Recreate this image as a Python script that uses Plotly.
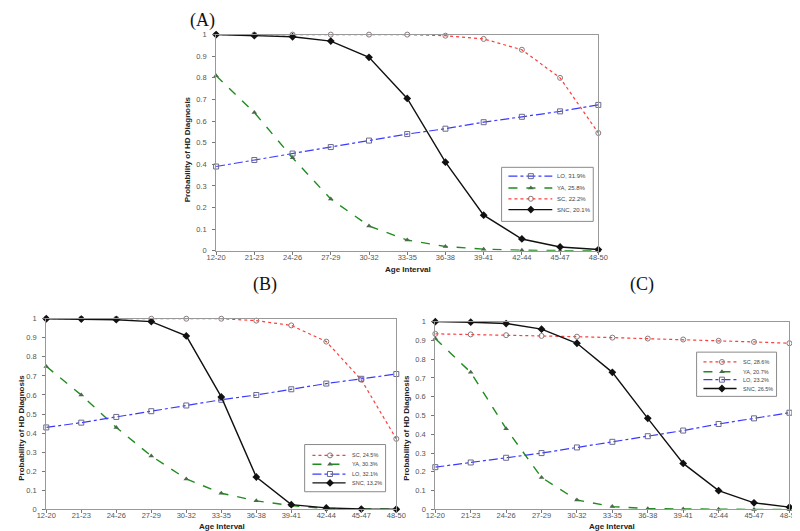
import plotly.graph_objects as go

age_labels = ["12-20", "21-23", "24-26", "27-29", "30-32", "33-35",
              "36-38", "39-41", "42-44", "45-47", "48-50"]

# Panel A
a_lo = [0.39, 0.42, 0.45, 0.48, 0.51, 0.54, 0.565, 0.595, 0.62, 0.645, 0.675]
a_ya = [0.81, 0.64, 0.43, 0.24, 0.115, 0.05, 0.02, 0.008, 0.003, 0.001, 0.0]
a_sc = [1.0, 1.0, 1.0, 1.0, 1.0, 1.0, 0.995, 0.98, 0.93, 0.80, 0.545]
a_snc = [1.0, 0.995, 0.99, 0.97, 0.895, 0.705, 0.41, 0.165, 0.055, 0.018, 0.006]
a_order = ["LO", "YA", "SC", "SNC"]
a_names = {"LO": "LO, 31.9%", "YA": "YA, 25.8%", "SC": "SC, 22.2%", "SNC": "SNC, 20.1%"}

# Panel B
b_sc = [1.0, 1.0, 1.0, 1.0, 1.0, 1.0, 0.99, 0.965, 0.88, 0.68, 0.37]
b_ya = [0.75, 0.60, 0.43, 0.28, 0.16, 0.085, 0.045, 0.02, 0.005, 0.002, 0.001]
b_lo = [0.43, 0.455, 0.485, 0.515, 0.545, 0.575, 0.60, 0.63, 0.66, 0.685, 0.71]
b_snc = [1.0, 0.998, 0.995, 0.985, 0.91, 0.59, 0.17, 0.025, 0.008, 0.002, 0.001]
b_order = ["SC", "YA", "LO", "SNC"]
b_names = {"SC": "SC, 24.5%", "YA": "YA, 30.3%", "LO": "LO, 32.1%", "SNC": "SNC, 13.2%"}

# Panel C
c_sc = [0.935, 0.932, 0.928, 0.924, 0.92, 0.915, 0.91, 0.905, 0.898, 0.892, 0.885]
c_ya = [0.91, 0.73, 0.43, 0.17, 0.05, 0.015, 0.004, 0.002, 0.001, 0.0, 0.0]
c_lo = [0.225, 0.25, 0.275, 0.30, 0.33, 0.36, 0.39, 0.42, 0.455, 0.485, 0.515]
c_snc = [1.0, 0.997, 0.99, 0.96, 0.885, 0.73, 0.485, 0.245, 0.10, 0.035, 0.012]
c_order = ["SC", "YA", "LO", "SNC"]
c_names = {"SC": "SC, 28.6%", "YA": "YA, 20.7%", "LO": "LO, 23.2%", "SNC": "SNC, 26.5%"}

x_idx = list(range(len(age_labels)))
W, H = 800, 531

styles = {
    "LO": dict(line=dict(color="#3a3aff", dash="dashdot", width=1.2),
               marker=dict(symbol="square-open", size=5, color="#6a6a8a", line=dict(width=1))),
    "YA": dict(line=dict(color="#1e8c1e", dash="dash", width=1.4),
               marker=dict(symbol="triangle-up", size=5, color="#4a6a4a")),
    "SC": dict(line=dict(color="#ff3b3b", dash="dot", width=1.2),
               marker=dict(symbol="circle-open", size=5, color="#8a7a7a", line=dict(width=1))),
    "SNC": dict(line=dict(color="#111111", dash="solid", width=1.4),
                marker=dict(symbol="diamond", size=6, color="#111111")),
}

fig = go.Figure()

panels = [
    ("x", "y", a_order, {"LO": a_lo, "YA": a_ya, "SC": a_sc, "SNC": a_snc}, a_names),
    ("x2", "y2", b_order, {"SC": b_sc, "YA": b_ya, "LO": b_lo, "SNC": b_snc}, b_names),
    ("x3", "y3", c_order, {"SC": c_sc, "YA": c_ya, "LO": c_lo, "SNC": c_snc}, c_names),
]

for xa, ya, order, series, names in panels:
    for key in order:
        st = styles[key]
        fig.add_trace(go.Scatter(x=x_idx, y=series[key], name=names[key],
                                 mode="lines+markers", line=st["line"], marker=st["marker"],
                                 xaxis=xa, yaxis=ya, showlegend=False, cliponaxis=False))

# ---- hand-built legends (pixel layout on a hidden overlay axis) ----
legend_specs = [
    dict(box=(496, 158, 590, 213), rows=[167, 179, 190, 201], lx=(503, 548), mx=526, tx=551, fs=6),
    dict(box=(294, 440, 377, 488), rows=[451, 460, 470, 479], lx=(302, 336), mx=320, tx=341, fs=5.5),
    dict(box=(696, 346, 778, 391), rows=[356, 366, 374, 383], lx=(703, 737), mx=722, tx=742, fs=5.5),
]

shapes = []
annotations = []
for (xa, ya, order, series, names), spec in zip(panels, legend_specs):
    bx0, by0, bx1, by1 = spec["box"]
    shapes.append(dict(type="rect", xref="x4", yref="y4", x0=bx0, y0=by0, x1=bx1, y1=by1,
                       line=dict(color="#8a8a8a", width=1), fillcolor="white", layer="below"))
    for key, ry in zip(order, spec["rows"]):
        st = styles[key]
        fig.add_trace(go.Scatter(x=list(spec["lx"]), y=[ry, ry], mode="lines",
                                 line=st["line"], xaxis="x4", yaxis="y4",
                                 showlegend=False, hoverinfo="skip"))
        fig.add_trace(go.Scatter(x=[spec["mx"]], y=[ry], mode="markers",
                                 marker=st["marker"], xaxis="x4", yaxis="y4",
                                 showlegend=False, hoverinfo="skip"))
        annotations.append(dict(text=names[key], x=spec["tx"] / W, y=1 - ry / H,
                                xref="paper", yref="paper", xanchor="left", yanchor="middle",
                                showarrow=False,
                                font=dict(family="Liberation Sans, Arial", size=spec["fs"], color="#444")))

tickfont = dict(family="Liberation Sans, Arial", size=7.5, color="#555555")
titlefont = dict(family="Liberation Sans, Arial", size=8, color="#222222")


def xaxis(domain, anchor):
    return dict(domain=domain, anchor=anchor, range=[0, 10], tickvals=x_idx,
                ticktext=age_labels, ticks="outside", ticklen=3, tickcolor="#777",
                showline=True, linecolor="#999999", mirror=True, showgrid=False,
                zeroline=False, tickfont=tickfont, ticklabelstandoff=-4)


def yaxis(domain, anchor):
    return dict(domain=domain, anchor=anchor, range=[0, 1], dtick=0.1,
                ticks="outside", ticklen=3, tickcolor="#777",
                showline=True, linecolor="#999999", mirror=True, showgrid=False,
                zeroline=False, tickfont=tickfont, ticklabelstandoff=4)


# axis titles (pixel centres)
x_titles = [(400, 262), (209, 523), (609, 523)]
y_titles = [(174, 140), (4, 423), (399, 423)]
for (tx, ty) in x_titles:
    annotations.append(dict(text="<b>Age Interval</b>", x=tx / W, y=1 - ty / H,
                            xref="paper", yref="paper", xanchor="center", yanchor="middle",
                            showarrow=False, font=titlefont, borderpad=0))
for (tx, ty) in y_titles:
    annotations.append(dict(text="<b>Probability of HD Diagnosis</b>", x=tx / W, y=1 - ty / H,
                            xref="paper", yref="paper", xanchor="center", yanchor="middle",
                            textangle=-90, showarrow=False, font=titlefont, borderpad=0))

for lab, (px, py) in [("(A)", (189, 9)), ("(B)", (253, 277)), ("(C)", (640, 277))]:
    annotations.append(dict(text=lab, x=px / W, y=1 - py / H, xref="paper", yref="paper",
                            xanchor="center", yanchor="middle", showarrow=False, borderpad=0,
                            font=dict(family="Liberation Serif, Times New Roman", size=18, color="#111")))

fig.update_layout(
    width=W, height=H, margin=dict(l=0, r=0, t=0, b=0),
    paper_bgcolor="white", plot_bgcolor="rgba(0,0,0,0)", showlegend=False,
    xaxis=xaxis([0.254, 0.744], "y"),
    yaxis=yaxis([0.5424, 0.9567], "x"),
    xaxis2=xaxis([0.03625, 0.485], "y2"),
    yaxis2=yaxis([0.0471, 0.4124], "x2"),
    xaxis3=xaxis([0.535, 0.989], "y3"),
    yaxis3=yaxis([0.0471, 0.4068], "x3"),
    xaxis4=dict(domain=[0, 1], anchor="y4", range=[0, W], visible=False, fixedrange=True),
    yaxis4=dict(domain=[0, 1], anchor="x4", range=[H, 0], visible=False, fixedrange=True),
    shapes=shapes,
    annotations=annotations,
)

fig.write_html("out.html")
